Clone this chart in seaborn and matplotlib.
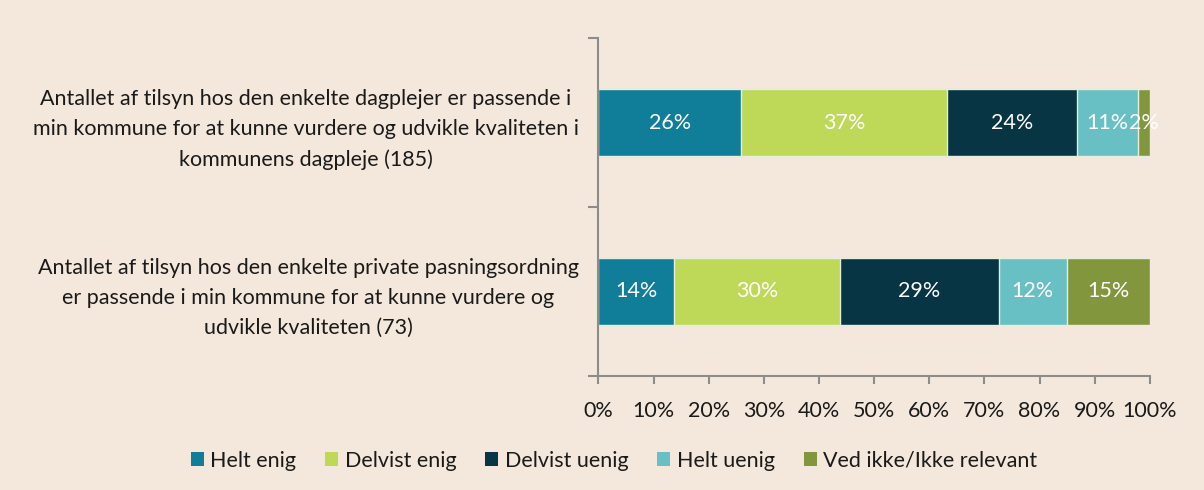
import numpy as np
import pandas as pd
import matplotlib
matplotlib.use("Agg")
import matplotlib.pyplot as plt
import seaborn as sns
from matplotlib.ticker import FixedLocator, PercentFormatter

questions = [
    "Antallet af tilsyn hos den enkelte dagplejer er passende i\nmin kommune for at kunne vurdere og udvikle kvaliteten i\nkommunens dagpleje (185)",
    "Antallet af tilsyn hos den enkelte private pasningsordning\ner passende i min kommune for at kunne vurdere og\nudvikle kvaliteten (73)",
]
answers = ["Helt enig", "Delvist enig", "Delvist uenig", "Helt uenig", "Ved ikke/Ikke relevant"]
helt_enig = [25.9, 13.7]
delvist_enig = [37.3, 30.1]
delvist_uenig = [23.6, 28.8]
helt_uenig = [11.0, 12.3]
ved_ikke = [2.2, 15.1]
colors = ["#107D99", "#BED858", "#073544", "#68C0C5", "#82973D"]
bg = "#F4E8DC"

sns.set_style("white")
plt.rcParams["font.family"] = ["Lato", "DejaVu Sans"]
plt.rcParams["text.color"] = "#1A1A1A"
fs = 15.5

vals = np.array([helt_enig, delvist_enig, delvist_uenig, helt_uenig, ved_ikke])
cum = vals.cumsum(axis=0)

fig, ax = plt.subplots(figsize=(12.04, 4.9), dpi=100)
fig.patch.set_facecolor(bg)
ax.set_facecolor(bg)

# stacked bars: draw cumulative totals from last to first
for i in range(len(answers) - 1, -1, -1):
    df = pd.DataFrame({"q": questions, "v": cum[i]})
    sns.barplot(data=df, x="v", y="q", orient="h", color=colors[i], width=0.4,
                edgecolor="#E6EEDD", linewidth=1, saturation=1, ax=ax, label=answers[i])

for i in range(len(answers)):
    for j in range(len(questions)):
        center = cum[i, j] - vals[i, j] / 2
        ax.text(center, j, f"{vals[i, j]:.0f}%", ha="center", va="center",
                color="white", fontsize=fs)

ax.set_xlim(0, 100)
ax.set_ylim(1.5, -0.5)
ax.xaxis.set_major_locator(FixedLocator(np.arange(0, 101, 10)))
ax.xaxis.set_major_formatter(PercentFormatter(decimals=0))
ax.set_xlabel("")
ax.set_ylabel("")
ax.yaxis.set_minor_locator(FixedLocator([-0.5, 0.5, 1.5]))
ax.tick_params(axis="y", which="major", length=0, pad=14, labelsize=fs, labelcolor="#1A1A1A")
ax.tick_params(axis="y", which="minor", left=True, length=7, color="#8C8C8C", width=1.5)
ax.tick_params(axis="x", bottom=True, length=6, color="#8C8C8C", width=1.5,
               labelsize=fs, pad=12, labelcolor="#1A1A1A")
for lab in ax.get_yticklabels():
    lab.set_multialignment("center")
    lab.set_linespacing(1.62)
for s in ["top", "right"]:
    ax.spines[s].set_visible(False)
for s in ["left", "bottom"]:
    ax.spines[s].set_color("#8C8C8C")
    ax.spines[s].set_linewidth(1.5)

handles, labels = ax.get_legend_handles_labels()
order = [labels.index(a) for a in answers]
leg = ax.legend([handles[k] for k in order], answers, loc="lower center",
                bbox_to_anchor=(0.51, 0.0), bbox_transform=fig.transFigure,
                ncol=5, frameon=False, fontsize=fs, handlelength=0.6,
                handleheight=0.6, handletextpad=0.3, columnspacing=1.35)
for h in leg.legend_handles:
    h.set_edgecolor("none")

fig.subplots_adjust(left=0.497, right=0.955, top=0.922, bottom=0.233)
fig.savefig("out.png", dpi=100, facecolor=bg)
